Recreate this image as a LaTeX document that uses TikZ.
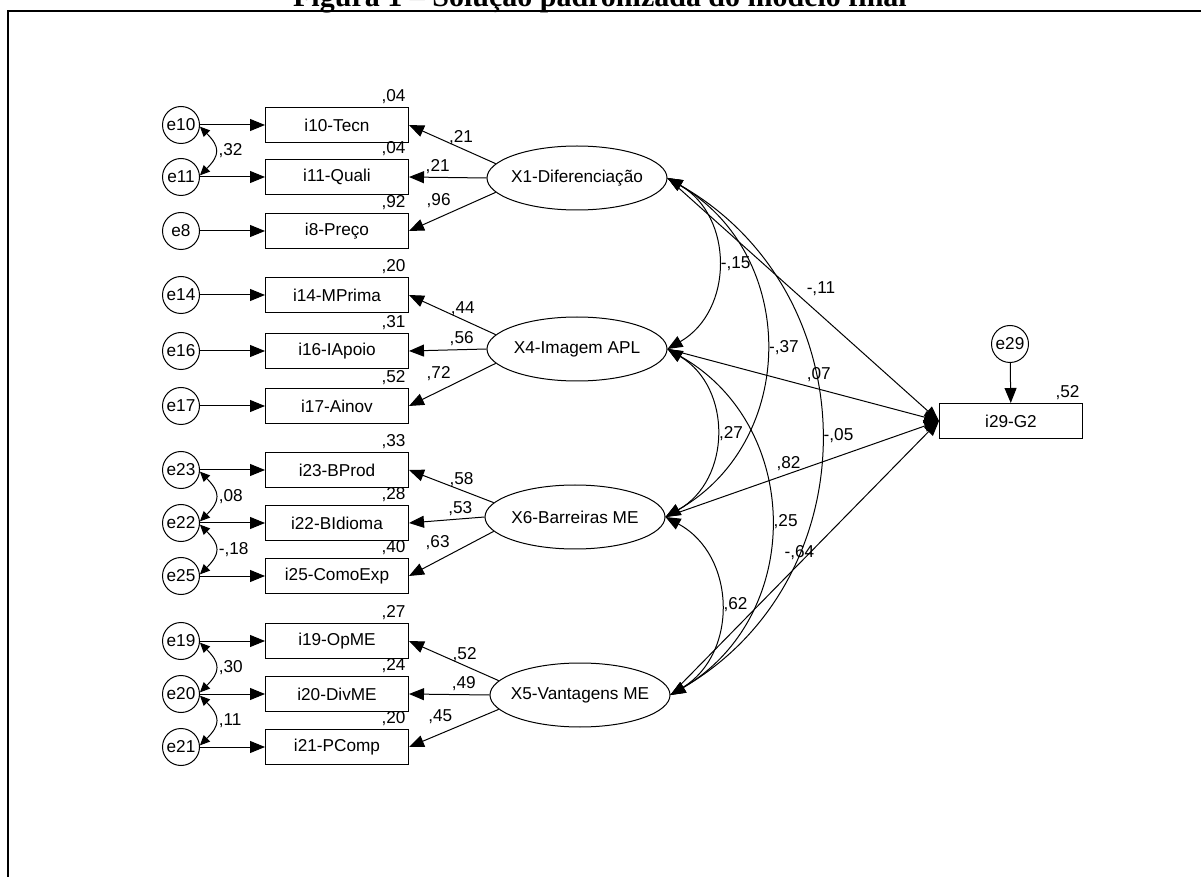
\documentclass[tikz,border=0pt]{standalone}
\usepackage{fontspec}
\setmainfont{Liberation Sans}
\newfontfamily\titelfont{Liberation Serif}
\usetikzlibrary{arrows.meta,shapes.geometric}

\tikzset{
    obs/.style={draw, rectangle, minimum width=71.5pt, minimum height=17.5pt, inner sep=0pt},
    err/.style={draw, circle, minimum size=18.5pt, inner sep=0pt},
    lat/.style={draw, ellipse, minimum width=90pt, minimum height=32pt, inner sep=0pt},
    wert/.style={inner sep=1.5pt},
    kov/.style={<->, bend left=60, looseness=1.15},
    ekov/.style={>={Triangle[length=5pt,width=4.5pt]}, <->, out=-45, in=45, looseness=1.5}
}

\begin{document}
\begin{tikzpicture}[x=0.5pt, y=0.5pt, line width=0.5pt,
    >={Triangle[length=7.5pt,width=6pt]}, font=\fontsize{8.6}{10}\selectfont]
    % Rahmen und Titel
    \useasboundingbox (0,0) rectangle (1201,-877);
    \clip (0,0) rectangle (1201,-877);
    \draw[line width=1.1pt] (8,-11) rectangle (1260,-940);
    \node[anchor=base, font=\titelfont\bfseries\fontsize{15}{17}\selectfont] (titel) at (600,-7)
        {Figura 1 – Solução padronizada do modelo final};

    % Indikatoren mit Fehlertermen
    \foreach \nr/\txt/\y/\rq in {10/Tecn/125/{,04}, 11/Quali/177/{,04}, 8/Preço/231/{,92},
        14/MPrima/295/{,20}, 16/IApoio/351/{,31}, 17/Ainov/406/{,52},
        23/BProd/470/{,33}, 22/BIdioma/523/{,28}, 25/ComoExp/576/{,40},
        19/OpME/641/{,27}, 20/DivME/694/{,24}, 21/PComp/747/{,20}} {
        \node[obs] (i\nr) at (337,-\y) {i\nr-\txt};
        \node[err] (e\nr) at (181,-\y) {e\nr};
        \node[wert, anchor=south east] (r\nr) at (i\nr.north east) {\rq};
        \draw[->] (e\nr) -- (i\nr);
    }

    % Latente Variablen
    \node[lat] (X1) at (577,-178) {\makebox[0pt]{X1-Diferenciação}};
    \node[lat] (X4) at (577,-349) {\makebox[0pt]{X4-Imagem APL}};
    \node[lat] (X6) at (575,-517) {\makebox[0pt]{X6-Barreiras ME}};
    \node[lat] (X5) at (580,-695) {\makebox[0pt]{X5-Vantagens ME}};

    % Ladungen
    \draw[->] (X1.170) -- (i10.east) node[wert, pos=.4, above] (l10) {,21};
    \draw[->] (X1.west) -- (i11.east) node[wert, pos=.63, above] (l11) {,21};
    \draw[->] (X1.190) -- (i8.east) node[wert, pos=.48, above left] (l8) {,96};
    \draw[->] (X4.170) -- (i14.east) node[wert, pos=.38, above] (l14) {,44};
    \draw[->] (X4.west) -- (i16.east) node[wert, pos=.32, above] (l16) {,56};
    \draw[->] (X4.190) -- (i17.east) node[wert, pos=.48, above left] (l17) {,72};
    \draw[->] (X6.170) -- (i23.east) node[wert, pos=.38, above] (l23) {,58};
    \draw[->] (X6.west) -- (i22.east) node[wert, pos=.32, above] (l22) {,53};
    \draw[->] (X6.190) -- (i25.east) node[wert, pos=.48, above left] (l25) {,63};
    \draw[->] (X5.170) -- (i19.east) node[wert, pos=.38, above] (l19) {,52};
    \draw[->] (X5.west) -- (i20.east) node[wert, pos=.32, above] (l20) {,49};
    \draw[->] (X5.190) -- (i21.east) node[wert, pos=.48, above left] (l21) {,45};

    % Fehlerkovarianzen
    \draw[ekov] (e10.-5) to node[wert, right] (k1011) {,32} (e11.5);
    \draw[ekov] (e23.-5) to node[wert, right] (k2322) {,08} (e22.5);
    \draw[ekov] (e22.-5) to node[wert, right] (k2225) {-,18} (e25.5);
    \draw[ekov] (e19.-5) to node[wert, right] (k1920) {,30} (e20.5);
    \draw[ekov] (e20.-5) to node[wert, right] (k2021) {,11} (e21.5);

    % Korrelationen der Faktoren
    \draw[kov] (X1.east) to node[wert, right] (k14) {-,15} (X4.east);
    \draw[kov] (X1.east) to node[wert, right] (k16) {-,37} (X6.east);
    \draw[kov] (X1.east) to node[wert, right] (k15) {-,05} (X5.east);
    \draw[kov] (X4.east) to node[wert, right] (k46) {,27} (X6.east);
    \draw[kov] (X4.east) to node[wert, right] (k45) {,25} (X5.east);
    \draw[kov] (X6.east) to node[wert, right] (k65) {,62} (X5.east);

    % Pfade zu G2
    \node[err] (e29) at (1010,-344) {e29};
    \node[obs] (i29) at (1011,-421) {i29-G2};
    \node[wert, anchor=south east] (r29) at (i29.north east) {,52};
    \draw[->] (e29) -- (i29);
    \draw[->] (X1.east) -- (i29.west) node[wert, pos=.5, above right] (g1) {-,11};
    \draw[->] (X4.east) -- (i29.west) node[wert, pos=.5, above right] (g4) {,07};
    \draw[->] (X6.east) -- (i29.west) node[wert, pos=.45, above] (g6) {,82};
    \draw[->] (X5.east) -- (i29.west) node[wert, pos=.48, above] (g5) {-,64};
\end{tikzpicture}
\end{document}
